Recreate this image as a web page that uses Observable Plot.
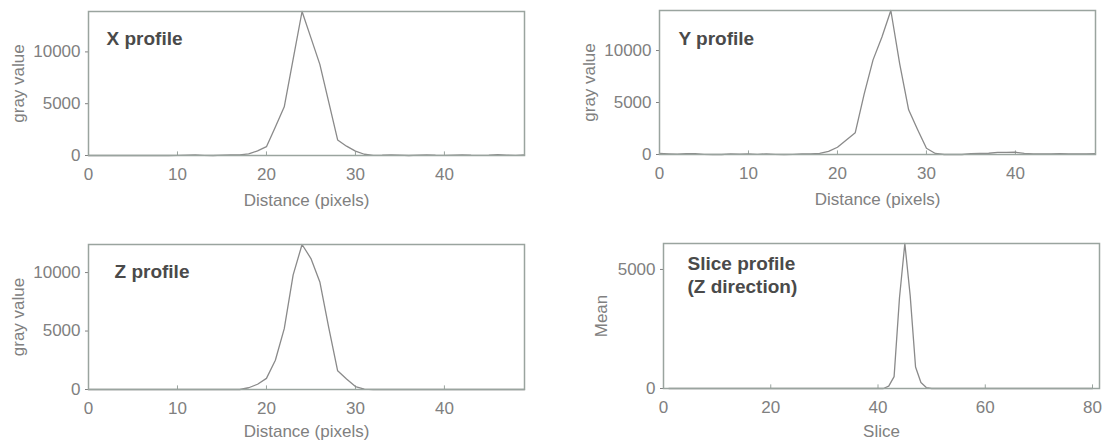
<!DOCTYPE html>
<html>
<head>
<meta charset="utf-8">
<script src="https://cdn.jsdelivr.net/npm/d3@7"></script>
<script src="https://cdn.jsdelivr.net/npm/@observablehq/plot@0.6"></script>
<style>
  html, body { margin: 0; padding: 0; background: #ffffff; }
  #chart { position: relative; width: 1102px; height: 442px; overflow: hidden; background: #fff; }
  #chart svg { position: absolute; overflow: visible; }
</style>
</head>
<body>
<div id="chart"></div>
<script>
// ---- Data ----
const distance = [0,1,2,3,4,5,6,7,8,9,10,11,12,13,14,15,16,17,18,19,20,21,22,23,24,25,26,27,28,29,30,31,32,33,34,35,36,37,38,39,40,41,42,43,44,45,46,47,48,49];

const xProfile = [0,0,0,0,0,0,0,0,0,0,20,40,60,20,0,30,60,60,150,450,850,2750,4700,9300,13900,11350,8800,5150,1500,900,420,120,20,30,60,30,0,30,60,30,20,40,60,30,20,40,80,30,20,60];

const yProfile = [100,60,30,80,80,20,0,0,60,30,50,20,60,20,0,20,60,60,100,300,700,1400,2100,5800,9100,11300,13850,8700,4300,2400,600,100,0,0,0,80,100,120,200,200,220,100,60,60,60,80,60,60,60,80];

const zProfile = [0,0,0,0,0,0,0,0,0,0,0,0,0,0,0,0,0,0,150,450,950,2500,5200,9800,12400,11200,9200,5300,1600,900,250,40,0,0,0,0,0,0,0,0,0,0,0,0,0,0,0,0,0,0];

const slices = [1,2,3,4,5,6,7,8,9,10,11,12,13,14,15,16,17,18,19,20,21,22,23,24,25,26,27,28,29,30,31,32,33,34,35,36,37,38,39,40,41,42,43,44,45,46,47,48,49,50,51,52,53,54,55,56,57,58,59,60,61,62,63,64,65,66,67,68,69,70,71,72,73,74,75,76,77,78,79,80];
const sliceMean = [0,0,0,0,0,0,0,0,0,0,0,0,0,0,0,0,0,0,0,0,0,0,0,0,0,0,0,0,0,0,0,0,0,0,0,0,0,0,0,0,0,100,500,3800,6090,3900,900,250,40,0,0,0,0,0,0,0,0,0,0,0,0,0,0,0,0,0,0,0,0,0,0,0,0,0,0,0,0,0,0,0];

const distTicks = [0, 10, 20, 30, 40];
const sliceTicks = [0, 20, 40, 60, 80];
const grayTicks = [0, 5000, 10000];
const meanTicks = [0, 5000];

const titles = ["X profile", "Y profile", "Z profile", "Slice profile\n(Z direction)"];
const xLabels = ["Distance (pixels)", "Distance (pixels)", "Distance (pixels)", "Slice"];
const yLabels = ["gray value", "gray value", "gray value", "Mean"];

// ---- Styling ----
const FRAME = "#9aa49f";
const LINE = "#8a8a8a";
const TICKTXT = "#808080";
const TITLE = "#4a4a4a";
const FONT = "'Liberation Sans', Arial, sans-serif";

function panel({xs, ys, xDomain, yDomain, xTicks, yTicks, title, xLabel, yLabel,
                left, top, width, height, mL, mR, mT, mB, titleDx, titleDy, xLabelDy, yLabelDx}) {
  const data = xs.map((x, i) => ({x, y: ys[i]}));
  const yMax = yDomain[1];
  const p = Plot.plot({
    width, height,
    marginLeft: mL, marginRight: mR, marginTop: mT, marginBottom: mB,
    style: {fontFamily: FONT, fontSize: "17px", color: TICKTXT, background: "transparent", overflow: "visible"},
    x: {domain: xDomain, ticks: xTicks, tickSize: 0, tickPadding: 12, label: null, tickFormat: d3.format("d")},
    y: {domain: yDomain, ticks: yTicks, tickSize: 3, tickPadding: 5, label: null, tickFormat: d3.format("d")},
    marks: [
      Plot.ruleX(xTicks.filter(t => t > xDomain[0] && t < xDomain[1]), {y1: 0, y2: yMax * 0.025, stroke: FRAME, strokeWidth: 1}),
      Plot.line(data, {x: "x", y: "y", stroke: LINE, strokeWidth: 1.3}),
      Plot.frame({stroke: FRAME, strokeWidth: 1.5}),
      Plot.text([title], {text: d => d, frameAnchor: "top-left", dx: titleDx, dy: titleDy,
        textAnchor: "start", lineAnchor: "middle", lineHeight: 1.2,
        fontSize: 19, fontWeight: "bold", fill: TITLE}),
      Plot.text([xLabel], {text: d => d, frameAnchor: "bottom", dy: xLabelDy, textAnchor: "middle", lineAnchor: "middle",
        fontSize: 17, fill: TICKTXT}),
      Plot.text([yLabel], {text: d => d, frameAnchor: "left", dx: yLabelDx, rotate: -90, textAnchor: "middle", lineAnchor: "middle",
        fontSize: 17, fill: TICKTXT})
    ]
  });
  p.style.left = left + "px";
  p.style.top = top + "px";
  document.getElementById("chart").appendChild(p);
}

panel({xs: distance, ys: xProfile, xDomain: [0, 49], yDomain: [0, 13900], xTicks: distTicks, yTicks: grayTicks,
  title: titles[0], xLabel: xLabels[0], yLabel: yLabels[0],
  left: 0, top: 0, width: 560, height: 220, mL: 88, mR: 36, mT: 11, mB: 65, titleDx: 18, titleDy: 26,
  xLabelDy: 45, yLabelDx: -70});

panel({xs: distance, ys: yProfile, xDomain: [0, 49], yDomain: [0, 13850], xTicks: distTicks, yTicks: grayTicks,
  title: titles[1], xLabel: xLabels[1], yLabel: yLabels[1],
  left: 560, top: 0, width: 542, height: 220, mL: 99, mR: 7, mT: 10, mB: 66, titleDx: 19, titleDy: 27,
  xLabelDy: 45, yLabelDx: -70});

panel({xs: distance, ys: zProfile, xDomain: [0, 49], yDomain: [0, 12400], xTicks: distTicks, yTicks: grayTicks,
  title: titles[2], xLabel: xLabels[2], yLabel: yLabels[2],
  left: 0, top: 220, width: 560, height: 222, mL: 88, mR: 36, mT: 24, mB: 53, titleDx: 26, titleDy: 26,
  xLabelDy: 42, yLabelDx: -70});

panel({xs: slices, ys: sliceMean, xDomain: [0, 81.3], yDomain: [0, 6090], xTicks: sliceTicks, yTicks: meanTicks,
  title: titles[3], xLabel: xLabels[3], yLabel: yLabels[3],
  left: 560, top: 220, width: 542, height: 222, mL: 103, mR: 3, mT: 23, mB: 54, titleDx: 24, titleDy: 31,
  xLabelDy: 43, yLabelDx: -62});
</script>
</body>
</html>
